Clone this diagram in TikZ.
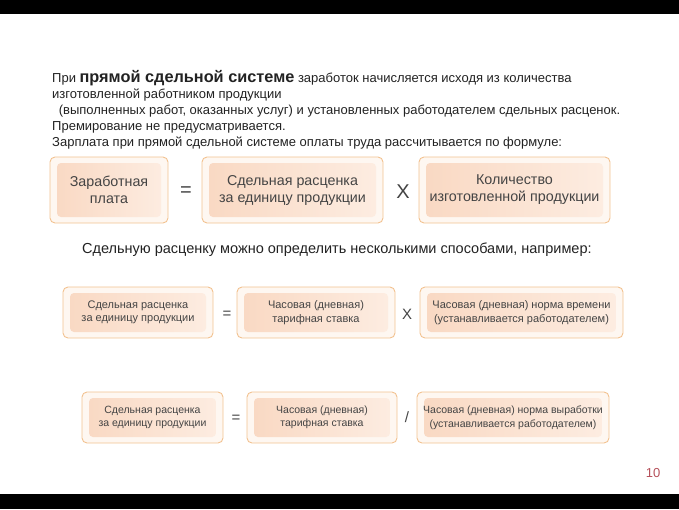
\documentclass[tikz,border=0pt]{standalone}
\usepackage{fontspec}
\setmainfont{Liberation Sans}
\definecolor{txt}{HTML}{222222}
\definecolor{boxtxt}{HTML}{444444}
\definecolor{boxline}{HTML}{F2C290}
\definecolor{boxbg}{HTML}{FEF7F1}
\definecolor{innerL}{HTML}{F9D8C2}
\definecolor{innerR}{HTML}{FDEDE2}
\definecolor{pagenum}{HTML}{B5505A}
\tikzset{
  fbox/.style={draw=boxline, line width=0.9pt, fill=boxbg, rounded corners=5pt,
    inner sep=0pt, outer sep=0pt, align=center, text=boxtxt,
    path picture={\shade[left color=innerL, right color=innerR, rounded corners=4pt]
      ([shift={(7pt,-6pt)}]path picture bounding box.north west) rectangle
      ([shift={(-7pt,6pt)}]path picture bounding box.south east);}},
  bigbox/.style={fbox, minimum height=66pt, font=\fontsize{14.3}{17}\selectfont},
  smallbox/.style={fbox, minimum height=51pt, font=\fontsize{11}{13.5}\selectfont},
  para/.style={anchor=base west, inner sep=0pt, text=txt, font=\fontsize{13}{15}\selectfont},
  bigop/.style={text=boxtxt, inner sep=0pt, font=\fontsize{20}{22}\selectfont},
  smallop/.style={text=boxtxt, inner sep=0pt, font=\fontsize{15}{17}\selectfont}
}
\begin{document}
\begin{tikzpicture}[x=1pt,y=-1pt]
\useasboundingbox (0,0) rectangle (679,509);
\fill[black] (0,0) rectangle (679,14);
\fill[black] (0,494) rectangle (679,509);
% paragraph
\node[para] (l1) at (52,82) {При {\fontsize{16.3}{17}\selectfont\bfseries прямой сдельной системе} заработок начисляется исходя из количества};
\node[para] (l2) at (52,98) {изготовленной работником продукции};
\node[para] (l3) at (55,114) {\ (выполненных работ, оказанных услуг) и установленных работодателем сдельных расценок.};
\node[para] (l4) at (52,130) {Премирование не предусматривается.};
\node[para] (l5) at (52,146) {Зарплата при прямой сдельной системе оплаты труда рассчитывается по формуле:};
% row 1
\node[bigbox, minimum width=118pt] (a1) at (109,190) {Заработная\\плата};
\node[bigop] (e1) at (186,192) {=};
\node[bigbox, minimum width=181pt] (a2) at (292.5,190) {Сдельная расценка\\за единицу продукции};
\node[bigop] (x1) at (403,192) {X};
\node[bigbox, minimum width=191pt] (a3) at (514.5,190) {Количество\\изготовленной продукции};
% middle line
\node[para, font=\fontsize{14.5}{16}\selectfont] (mid) at (82,253) {Сдельную расценку можно определить несколькими способами, например:};
% row 2
\node[smallbox, minimum width=150pt] (b1) at (138,312.5) {Сдельная расценка\\за единицу продукции};
\node[smallop] (e2) at (227,315) {=};
\node[smallbox, minimum width=158pt] (b2) at (316,312.5) {Часовая (дневная)\\тарифная ставка};
\node[smallop] (x2) at (407,314) {X};
\node[smallbox, minimum width=203pt] (b3) at (521.5,312.5) {Часовая (дневная) норма времени\\(устанавливается работодателем)};
% row 3
\node[smallbox, minimum width=141pt, font=\fontsize{10.5}{13.5}\selectfont] (c1) at (152.5,417.5) {Сдельная расценка\\за единицу продукции};
\node[smallop] (e3) at (236,419) {=};
\node[smallbox, minimum width=150pt, font=\fontsize{10.5}{13.5}\selectfont] (c2) at (322,417.5) {Часовая (дневная)\\тарифная ставка};
\node[smallop] (d3) at (407,417) {/};
\node[smallbox, minimum width=192pt, font=\fontsize{10.5}{13.5}\selectfont] (c3) at (513,417.5) {Часовая (дневная) норма выработки\\(устанавливается работодателем)};
% page number
\node[text=pagenum, inner sep=0pt, font=\fontsize{13}{15}\selectfont] (pn) at (653,473) {10};
\end{tikzpicture}
\end{document}
